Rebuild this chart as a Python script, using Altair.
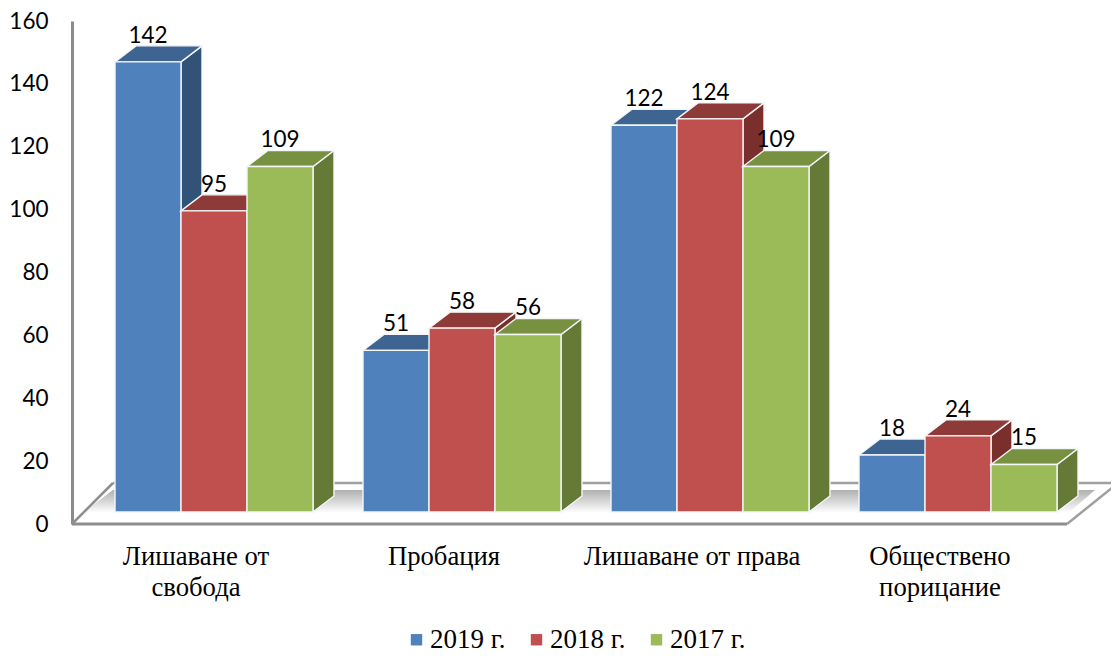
import altair as alt
import pandas as pd

categories = ["Лишаване от\nсвобода", "Пробация", "Лишаване от права", "Обществено\nпорицание"]
series = ["2019 г.", "2018 г.", "2017 г."]
values = {
    "2019 г.": [142, 51, 122, 18],
    "2018 г.": [95, 58, 124, 24],
    "2017 г.": [109, 56, 109, 15],
}
front_colors = ["#4F81BD", "#C0504D", "#9BBB59"]
top_colors = ["#3E6491", "#8E3A38", "#789140"]
side_colors = ["#325378", "#7A2F2D", "#657A37"]
axis_ticks = [0, 20, 40, 60, 80, 100, 120, 140, 160]

# layout, in bar widths along x and in value units along y
W, H = 1039, 503
BAR_PX = 66
X_DOMAIN = [0, W / BAR_PX]
Y_DOMAIN = [-3.785, 154.89]
FIRST_BAR = 0.6515
CAT_STEP = 3.7576
CAT_CENTER = 1.8788
DEPTH_X = 0.318
DEPTH_Y = 5.05
floor_x = [0.0, 15.076, 15.85, 0.62]
floor_y = [-3.785, -3.785, 9.15, 9.15]
shadow_x = [[0.16, 15.1], [0.62, 15.5]]
shadow_y = [-0.3, 6.94]

XS = alt.Scale(domain=X_DOMAIN, nice=False, zero=False)
YS = alt.Scale(domain=Y_DOMAIN, nice=False, zero=False)
X = lambda f: alt.X(f, type="quantitative", scale=XS, axis=None)
Y = lambda f: alt.Y(f, type="quantitative", scale=YS, axis=None)

EDGE = dict(stroke="#F4F6F8", strokeWidth=1.4)

layers = []

# floor shadow and floor edges
shadow_df = pd.DataFrame({
    "a": [shadow_x[0][0], shadow_x[1][0]],
    "b": [shadow_x[0][1], shadow_x[1][1]],
    "y": shadow_y,
})
layers.append(
    alt.Chart(shadow_df).mark_area(
        orient="horizontal",
        fill=alt.Gradient(
            gradient="linear", x1=0, y1=0, x2=0, y2=1,
            stops=[alt.GradientStop(offset=0, color="#B0B0B0"),
                   alt.GradientStop(offset=1, color="#FFFFFF")],
        ),
    ).encode(x=X("a"), x2="b", y=Y("y"))
)
floor_df = pd.DataFrame({"x": floor_x, "y": floor_y, "o": range(4)})
layers.append(
    alt.Chart(floor_df[floor_df.o.isin([0, 1])]).mark_line(color="#8E8E8E", strokeWidth=3).encode(x=X("x"), y=Y("y"), order="o:Q")
)
layers.append(
    alt.Chart(floor_df[floor_df.o.isin([1, 2, 3])]).mark_line(color="#A0A0A0", strokeWidth=2.5, clip=False).encode(x=X("x"), y=Y("y"), order="o:Q")
)
left_df = floor_df[floor_df.o.isin([0, 3])]
layers.append(
    alt.Chart(left_df).mark_line(color="#8E8E8E", strokeWidth=2.5).encode(x=X("x"), y=Y("y"), order="o:Q")
)

label_rows = []
for s, name in enumerate(series):
    side, top, front = [], [], []
    for i, v in enumerate(values[name]):
        l = FIRST_BAR + i * CAT_STEP + s
        r = l + 1
        side += [
            dict(bar=i, x=r, y=v, y2=0),
            dict(bar=i, x=r + DEPTH_X, y=v + DEPTH_Y, y2=DEPTH_Y),
        ]
        top += [
            dict(bar=i, x=l, x2=r, y=v),
            dict(bar=i, x=l + DEPTH_X, x2=r + DEPTH_X, y=v + DEPTH_Y),
        ]
        front.append(dict(series=name, x=l, x2=r, y=v, y2=0))
        label_rows.append(dict(x=(l + r) / 2, y=v + DEPTH_Y, t=str(v)))
    layers.append(
        alt.Chart(pd.DataFrame(side)).mark_area(fill=side_colors[s], **EDGE).encode(
            x=X("x"), y=Y("y"), y2="y2", detail="bar:N")
    )
    layers.append(
        alt.Chart(pd.DataFrame(top)).mark_area(orient="horizontal", fill=top_colors[s], **EDGE).encode(
            x=X("x"), x2="x2", y=Y("y"), detail="bar:N")
    )
    layers.append(
        alt.Chart(pd.DataFrame(front)).mark_bar(**EDGE).encode(
            x=X("x"), x2="x2", y=Y("y"), y2="y2",
            color=alt.Color(
                "series:N",
                scale=alt.Scale(domain=series, range=front_colors),
                legend=alt.Legend(
                    title=None, orient="none", legendX=331, legendY=605, direction="horizontal",
                    symbolType="square", symbolSize=130, symbolStrokeWidth=0,
                    labelFont="Liberation Serif", labelFontSize=27, labelColor="#000000",
                    labelOffset=0, columnPadding=17, labelLimit=200,
                ),
            ),
        )
    )

# value labels
layers.append(
    alt.Chart(pd.DataFrame(label_rows)).mark_text(
        font="Lato", fontSize=22.5, color="#000000", baseline="alphabetic", dy=-3
    ).encode(x=X("x"), y=Y("y"), text="t:N")
)

# category labels
cat_df = pd.DataFrame({"x": [CAT_CENTER + i * CAT_STEP for i in range(4)], "t": categories})
layers.append(
    alt.Chart(cat_df).mark_text(
        font="Liberation Serif", fontSize=26.7, color="#000000", baseline="alphabetic", lineBreak="\n", lineHeight=31
    ).encode(x=X("x"), y=alt.value(544), text="t:N")
)

# value axis (its own scale: the wall sits slightly in front of the bars)
axis_df = pd.DataFrame({"t": axis_ticks})
layers.append(
    alt.Chart(axis_df).mark_tick(opacity=0).encode(
        y=alt.Y(
            "t:Q",
            scale=alt.Scale(domain=[0, 160], nice=False),
            axis=alt.Axis(
                values=axis_ticks, title=None, grid=False, ticks=False,
                domainColor="#8C8C8C", domainWidth=3,
                labelFont="Lato", labelFontSize=22.5, labelColor="#000000", labelPadding=24,
            ),
        )
    )
)

chart = (
    alt.layer(*layers)
    .resolve_scale(y="independent")
    .properties(
        width=W, height=H,
        autosize=alt.AutoSizeParams(type="none"),
        padding={"left": 64, "top": 13, "right": 0, "bottom": 130},
    )
    .configure_view(stroke=None)
)
chart.save("out.html", embed_options={"renderer": "svg", "actions": False})
